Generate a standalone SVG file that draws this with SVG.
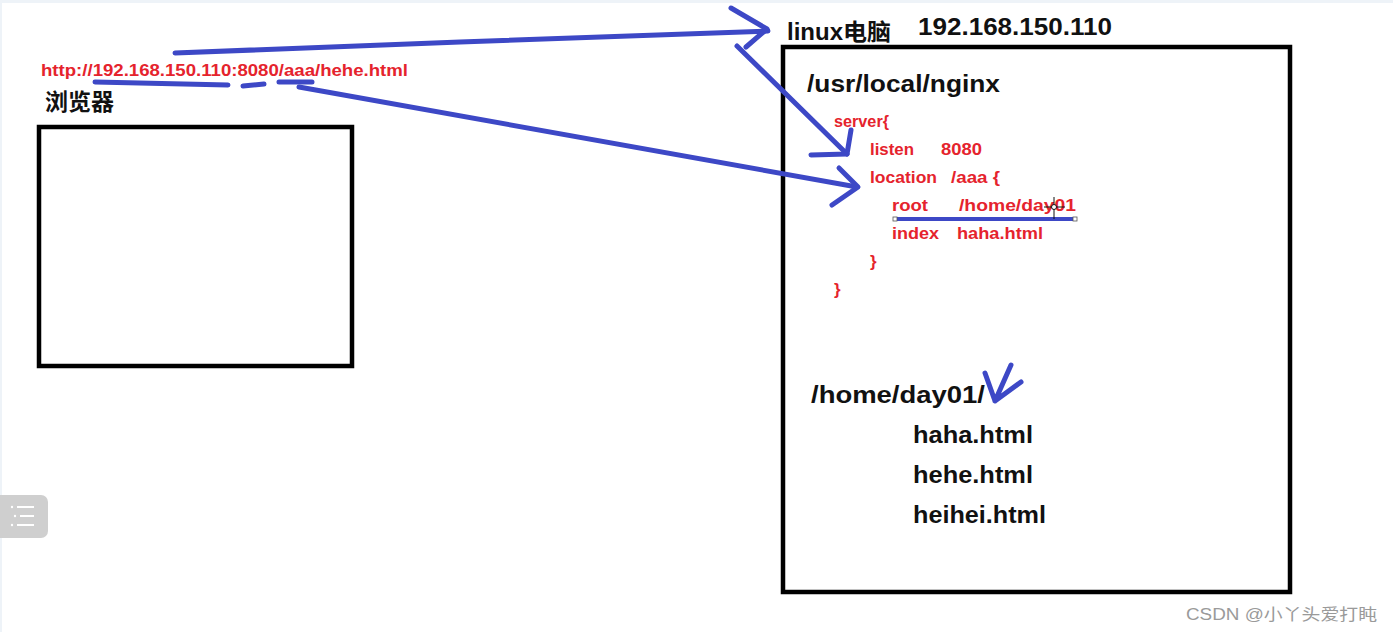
<svg xmlns="http://www.w3.org/2000/svg" width="1393" height="632" viewBox="0 0 1393 632">
<style>
.b{font-family:"Liberation Sans","Noto Sans CJK SC",sans-serif;font-weight:bold;fill:#111}
.r{font-family:"Liberation Sans","Noto Sans CJK SC",sans-serif;font-weight:bold;fill:#e5232d;font-size:17px}
.box{fill:none;stroke:#000;stroke-width:4.5}
.pen{fill:none;stroke:#3d48c6;stroke-width:5;stroke-linecap:round;stroke-linejoin:round}
</style>
<rect width="1393" height="632" fill="#ffffff"/>
<rect x="0" y="0" width="1393" height="3" fill="#eef3f8"/>
<rect x="0" y="0" width="2" height="632" fill="#eef3f8"/>

<g id="browser">
<text class="r" x="41" y="76" style="font-size:17px" textLength="367" lengthAdjust="spacingAndGlyphs">http://192.168.150.110:8080/aaa/hehe.html</text>
<text class="b" x="45" y="110" font-size="23">浏览器</text>
<rect class="box" x="39" y="127" width="313" height="239"/>
</g>

<g id="linux">
<text class="b" x="787" y="40" font-size="23" textLength="104" lengthAdjust="spacingAndGlyphs">linux电脑</text>
<text class="b" x="918" y="35" font-size="24" textLength="194" lengthAdjust="spacingAndGlyphs">192.168.150.110</text>
<rect class="box" x="783" y="47" width="507" height="545"/>
<text class="b" x="807" y="92" font-size="23" textLength="193" lengthAdjust="spacingAndGlyphs">/usr/local/nginx</text>
<text class="r" x="834" y="127" textLength="55" lengthAdjust="spacingAndGlyphs">server{</text>
<text class="r" x="870" y="155" textLength="44" lengthAdjust="spacingAndGlyphs">listen</text>
<text class="r" x="941" y="155" textLength="41" lengthAdjust="spacingAndGlyphs">8080</text>
<text class="r" x="870" y="183" textLength="67" lengthAdjust="spacingAndGlyphs">location</text>
<text class="r" x="951" y="183" textLength="49" lengthAdjust="spacingAndGlyphs">/aaa {</text>
<text class="r" x="892" y="211" textLength="36" lengthAdjust="spacingAndGlyphs">root</text>
<text class="r" x="959" y="211" textLength="117" lengthAdjust="spacingAndGlyphs">/home/day01</text>
<text class="r" x="892" y="239" textLength="47" lengthAdjust="spacingAndGlyphs">index</text>
<text class="r" x="957" y="239" textLength="86" lengthAdjust="spacingAndGlyphs">haha.html</text>
<text class="r" x="870" y="267">}</text>
<text class="r" x="834" y="295">}</text>
<text class="b" x="811" y="403" font-size="23" textLength="174" lengthAdjust="spacingAndGlyphs">/home/day01/</text>
<text class="b" x="913" y="443" font-size="23" textLength="120" lengthAdjust="spacingAndGlyphs">haha.html</text>
<text class="b" x="913" y="483" font-size="23" textLength="120" lengthAdjust="spacingAndGlyphs">hehe.html</text>
<text class="b" x="913" y="523" font-size="23" textLength="133" lengthAdjust="spacingAndGlyphs">heihei.html</text>
</g>

<g id="connectors">
<path class="pen" d="M175,53 L460,42 L768,31"/>
<path class="pen" d="M731,8 L767,29 L746,47"/>
<path class="pen" d="M737,46 L847,154"/>
<path class="pen" d="M851,130 L847,154 L811,155"/>
<path class="pen" d="M95,82 L228,85 M243,86 L264,84 M279,82 L312,82"/>
<path class="pen" d="M299,87 L857,187"/>
<path class="pen" d="M839,168 L858,187 L832,205"/>
<path d="M896,219 L1074,219" stroke="#3d48c6" stroke-width="4" fill="none"/>
<rect x="893" y="217" width="4" height="4" fill="#fff" stroke="#555" stroke-width="0.8"/>
<rect x="1073" y="217" width="4" height="4" fill="#fff" stroke="#555" stroke-width="0.8"/>
<path class="pen" d="M1011,365 L995,401 M985,373 L995,401 L1021,382"/>
</g>

<g id="cursor" stroke="#111" stroke-width="1" fill="none">
<path d="M1054,197 L1054,219 M1044,207 L1065,207"/>
<circle cx="1054" cy="207" r="2.5" fill="#fff"/>
</g>

<g id="sidebar">
<rect x="-8" y="495" width="56" height="43" rx="7" fill="#cfcfcf"/>
<g fill="#fff">
<circle cx="12" cy="507" r="1.2"/><rect x="17" y="506" width="17" height="2"/>
<circle cx="15" cy="516" r="1.2"/><rect x="20" y="515" width="14" height="2"/>
<circle cx="12" cy="525" r="1.2"/><rect x="17" y="524" width="17" height="2"/>
</g>
</g>

<text x="1186" y="620" font-family="Liberation Sans,'Noto Sans CJK SC',sans-serif" font-size="16" fill="#9a9a9a" textLength="191" lengthAdjust="spacingAndGlyphs">CSDN @小丫头爱打盹</text>
</svg>
